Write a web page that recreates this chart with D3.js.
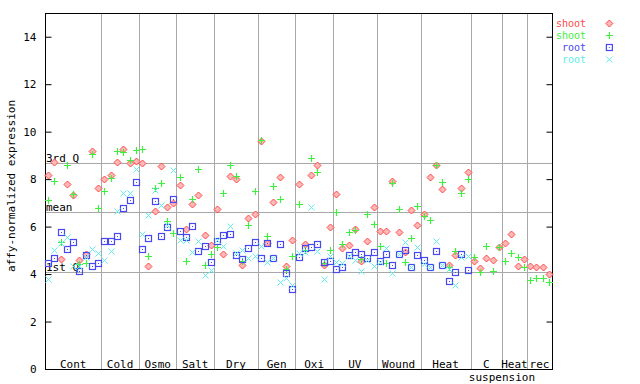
<!DOCTYPE html>
<html><head><meta charset="utf-8">
<script src="https://cdn.jsdelivr.net/npm/d3@7"></script>
<style>
html,body{margin:0;padding:0;background:#fff;}
text{font-family:"DejaVu Sans Mono",monospace;font-size:11px;}
</style></head>
<body><svg id="c" width="640" height="384"></svg>
<script>
// ---- data ----
const groupLabels = ["Cont","Cold","Osmo","Salt","Dry","Gen","Oxi","UV","Wound","Heat","C","Heat","rec"];
const groupSubLabels = ["","","","","","","","","","","suspension","",""];
const groupSizes = [9,6,6,6,7,6,6,7,7,8,5,4,4];

const shootRed = [8.17,8.72,4.63,7.79,7.34,4.58,4.84,9.19,7.63,
  8.01,8.18,8.72,9.28,8.69,8.77,
  8.69,4.33,6.65,8.55,6.82,6.99,
  7.75,5.89,6.95,7.32,5.64,5.23,
  6.73,4.84,8.13,8.00,4.37,6.35,6.52,
  9.61,5.30,7.03,8.08,4.33,5.43,
  7.79,5.26,8.17,8.59,4.37,5.98,
  7.37,5.09,5.22,5.89,4.54,5.38,6.82,
  5.81,5.81,7.92,5.76,4.92,6.69,6.06,
  6.52,8.08,8.59,7.58,4.37,4.79,7.62,8.29,
  4.54,4.25,4.67,4.58,5.13,
  5.30,5.68,4.33,4.63,
  4.33,4.29,4.29,3.99];
const shootGreen = [7.11,7.92,5.36,8.59,7.37,4.44,4.48,9.05,6.79,
  7.49,8.04,9.19,9.14,8.80,9.22,
  9.26,4.75,7.62,7.83,6.23,5.72,
  8.08,4.54,7.16,8.42,4.37,4.84,
  5.13,7.41,8.59,8.13,4.54,6.06,7.49,
  9.66,5.60,7.70,7.16,4.20,4.75,
  6.95,5.01,8.88,8.29,4.46,5.01,
  6.61,5.26,5.76,5.85,4.63,6.52,6.10,
  5.17,4.46,7.83,6.73,4.50,5.51,6.86,
  6.44,6.27,8.59,7.87,4.29,4.96,7.41,8.00,
  4.71,4.08,5.17,4.12,5.13,
  4.54,4.88,4.71,4.29,
  3.74,3.82,3.82,3.66];
const rootBlue = [4.47,4.67,5.76,5.05,5.34,4.12,4.79,4.33,4.47,
  5.38,5.38,5.61,6.78,7.11,7.87,
  5.05,5.51,7.07,5.60,5.98,7.16,
  5.81,5.55,6.02,4.96,5.17,4.50,
  5.38,5.64,5.68,4.79,4.63,5.09,5.34,
  4.67,5.30,4.67,5.26,4.03,3.36,
  4.71,5.09,5.13,5.26,4.50,4.54,
  4.20,4.29,4.79,4.92,4.84,4.67,4.92,
  4.54,4.84,4.37,4.84,5.01,4.29,4.79,
  4.58,4.29,4.96,4.37,3.70,4.08,4.84,4.16];
const rootCyan = [3.78,5.01,5.30,5.55,4.33,4.35,4.71,5.05,4.88,
  4.58,4.96,6.65,7.41,7.41,8.42,
  5.69,6.48,7.54,6.90,6.06,8.38,
  5.43,5.43,4.92,5.38,3.95,4.16,
  5.43,5.17,6.02,4.88,5.01,4.67,4.75,
  5.17,4.50,4.67,3.66,3.82,3.53,
  4.88,4.92,6.82,4.96,3.78,4.75,
  4.50,4.46,4.75,4.58,4.12,4.58,4.33,
  4.50,5.09,4.04,4.84,5.34,4.29,5.13,
  4.42,4.29,5.38,4.37,4.22,3.53,4.71,4.75];

const statLabels = ["3rd Q","mean","1st Q"];
const statValues = [8.69,6.61,4.08];
const yTicks = [0,2,4,6,8,10,12,14];
const seriesNames = ["shoot","shoot","root","root"];

// ---- layout ----
const L=45, R=552, T=13, B=369;
const nSamples = shootRed.length;
const svg = d3.select("#c");
const x = d3.scaleLinear().domain([0,nSamples]).range([L,R]);
const y = d3.scaleLinear().domain([0,15]).range([B,T]);
const grey = "#a8a8a8";

// group boundaries
const bounds = [];
let acc = 0;
groupSizes.forEach(s => { bounds.push([acc, acc+s]); acc += s; });

// vertical separators
svg.append("g").selectAll("line").data(bounds.slice(0,-1)).join("line")
  .attr("x1",d=>Math.round(x(d[1]))+0.5).attr("x2",d=>Math.round(x(d[1]))+0.5)
  .attr("y1",T).attr("y2",B).attr("stroke",grey).attr("stroke-width",1);

// stat lines
svg.append("g").selectAll("line").data(statValues).join("line")
  .attr("x1",L).attr("x2",R)
  .attr("y1",d=>Math.round(y(d))+0.5).attr("y2",d=>Math.round(y(d))+0.5)
  .attr("stroke",grey).attr("stroke-width",1);
svg.append("g").selectAll("text").data(statValues).join("text")
  .attr("x",L+1).attr("y",d=>Math.round(y(d))-1)
  .attr("fill","#000").text((d,i)=>statLabels[i]);

// axes
const axL = d3.axisLeft(y).tickValues(yTicks).tickSizeInner(-6).tickSizeOuter(0).tickPadding(9).tickFormat(d3.format("d"));
const gL = svg.append("g").attr("transform",`translate(${L+0.5},0)`).call(axL);
gL.select(".domain").remove();
gL.selectAll("text").style("font-family","DejaVu Sans Mono").style("font-size","11px").attr("fill","#000");
const axR = d3.axisRight(y).tickValues(yTicks).tickSizeInner(-6).tickSizeOuter(0).tickFormat("");
const gR = svg.append("g").attr("transform",`translate(${R+0.5},0)`).call(axR);
gR.select(".domain").remove();

// border
svg.append("rect").attr("x",L+0.5).attr("y",T+0.5).attr("width",R-L).attr("height",B-T)
  .attr("fill","none").attr("stroke","#000").attr("stroke-width",1);

// group labels
svg.append("g").selectAll("text").data(bounds).join("text")
  .attr("x",d=>x((d[0]+d[1])/2)).attr("y",368).attr("text-anchor","middle")
  .text((d,i)=>groupLabels[i]);
svg.append("g").selectAll("text").data(bounds).join("text")
  .attr("x",d=>x(d[1])).attr("y",381).attr("text-anchor","middle")
  .text((d,i)=>groupSubLabels[i]);

// y title
svg.append("text").attr("transform","translate(15,186) rotate(-90)")
  .attr("text-anchor","middle").text("affy-normalized expression");

// markers
const colors = ["#ff4848","#40ee40","#4848f0","#60eeee"];
const cx = i => x(i+0.5);
function diamond(g, data, col){
  g.selectAll("path").data(data).join("path")
   .attr("d",(d,i)=>{const X=Math.round(cx(i))+0.5,Y=Math.round(y(d))+0.5;return `M${X},${Y-3.5}L${X+3.5},${Y}L${X},${Y+3.5}L${X-3.5},${Y}Z`;})
   .attr("fill","#ffb8b8").attr("stroke",col).attr("stroke-width",1);
}
function plus(g, data, col){
  g.selectAll("path").data(data).join("path")
   .attr("d",(d,i)=>{const X=Math.round(cx(i))+0.5,Y=Math.round(y(d))+0.5;return `M${X-3.5},${Y}H${X+3.5}M${X},${Y-3.5}V${Y+3.5}`;})
   .attr("fill","none").attr("stroke",col).attr("stroke-width",1.2);
}
function square(g, data, col){
  const s = g.selectAll("g").data(data).join("g")
   .attr("transform",(d,i)=>`translate(${Math.round(cx(i))},${Math.round(y(d))})`);
  s.append("rect").attr("x",-2.5).attr("y",-2.5).attr("width",6).attr("height",6)
   .attr("fill","none").attr("stroke",col).attr("stroke-width",1.2);
  s.append("rect").attr("x",0).attr("y",0).attr("width",1).attr("height",1).attr("fill",col);
}
function cross(g, data, col){
  g.selectAll("path").data(data).join("path")
   .attr("d",(d,i)=>{const X=Math.round(cx(i))+0.5,Y=Math.round(y(d))+0.5;return `M${X-3},${Y-3}L${X+3},${Y+3}M${X-3},${Y+3}L${X+3},${Y-3}`;})
   .attr("fill","none").attr("stroke",col).attr("stroke-width",1);
}
diamond(svg.append("g"), shootRed, colors[0]);
plus(svg.append("g"), shootGreen, colors[1]);
square(svg.append("g"), rootBlue, colors[2]);
cross(svg.append("g"), rootCyan, colors[3]);

// legend
const legY = [23,35,47,59];
const lg = svg.append("g");
lg.selectAll("text").data(seriesNames).join("text")
  .attr("x",586).attr("y",(d,i)=>legY[i]+3.5).attr("text-anchor","end")
  .style("font-size","10px")
  .attr("fill",(d,i)=>colors[i]).text(d=>d);
const shift = 609-cx(0);
diamond(lg.append("g").attr("transform",`translate(${shift},0)`), [y.invert(legY[0])], colors[0]);
plus(lg.append("g").attr("transform",`translate(${shift},0)`), [y.invert(legY[1])], colors[1]);
square(lg.append("g").attr("transform",`translate(${shift},0)`), [y.invert(legY[2])], colors[2]);
cross(lg.append("g").attr("transform",`translate(${shift},0)`), [y.invert(legY[3])], colors[3]);
</script></body></html>
